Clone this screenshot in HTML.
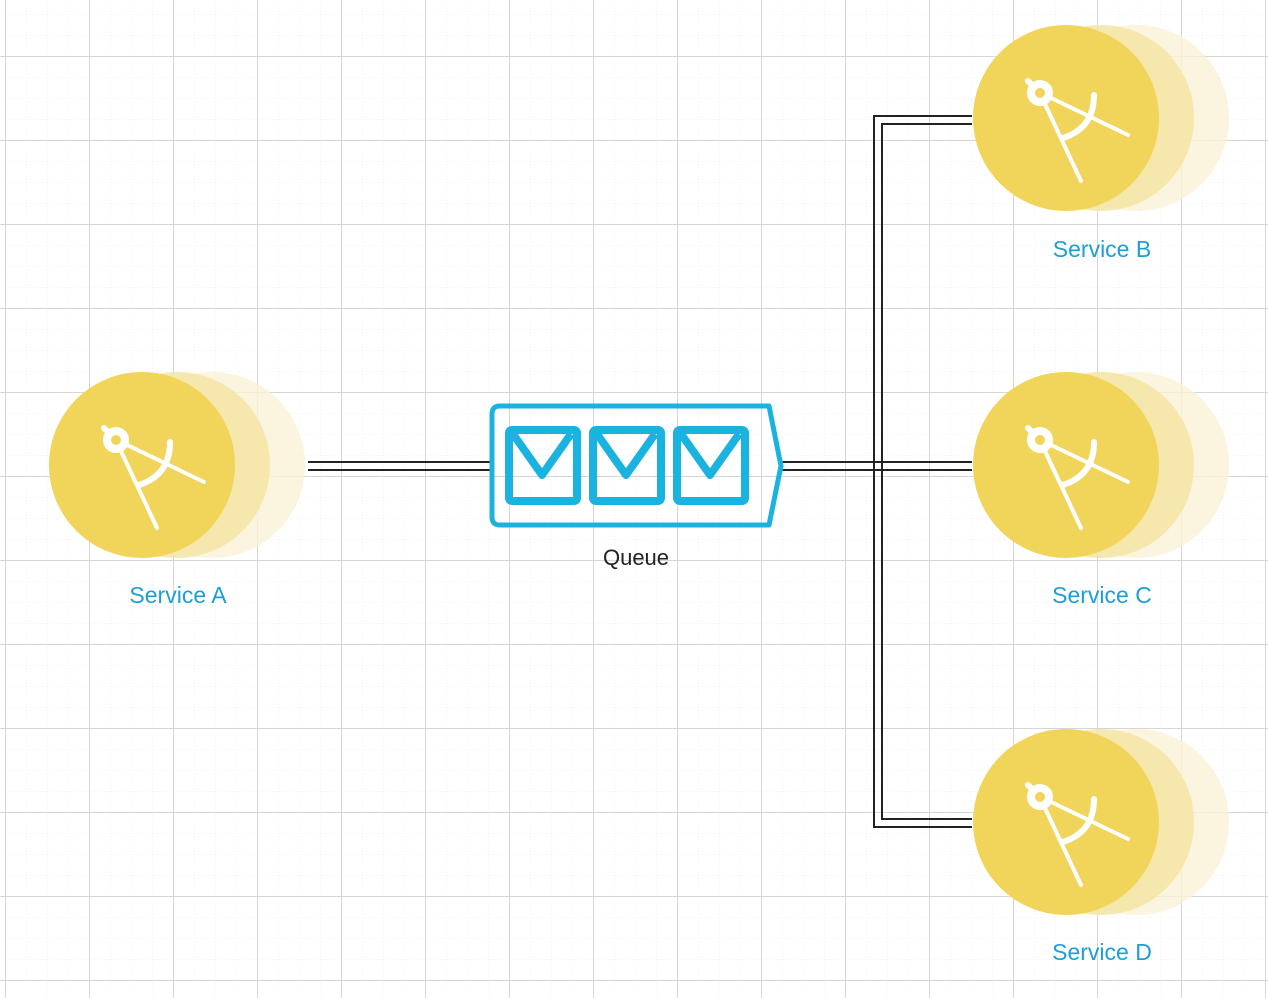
<!DOCTYPE html>
<html><head><meta charset="utf-8"><style>
html,body{margin:0;padding:0;background:#fff;}
svg{display:block;}
text{font-family:"Liberation Sans",sans-serif;}
</style></head><body>
<svg width="1268" height="998" viewBox="0 0 1268 998" xmlns="http://www.w3.org/2000/svg">
<defs>
<pattern id="minor" width="21" height="21" patternUnits="userSpaceOnUse" x="5" y="14">
<path d="M0 0H21M0 0V21" stroke="#eeeae0" stroke-width="1" fill="none" stroke-dasharray="1 2"/>
</pattern>
<pattern id="major" width="84" height="84" patternUnits="userSpaceOnUse" x="5" y="56">
<path d="M0 0.5H84M0.5 0V84" stroke="#d6d6d6" stroke-width="1" fill="none"/>
</pattern>
<g id="comp" fill="none" stroke="#fff" stroke-linecap="round">
<circle cx="-26" cy="-25" r="9" stroke-width="8"/>
<path d="M-38 -37 L-32 -31" stroke-width="6"/>
<path d="M-22 -16 L15 63" stroke-width="4"/>
<path d="M-17 -21 L62 17" stroke-width="4"/>
<path d="M28 -23 Q28 10 -3 20" stroke-width="6"/>
</g>
<g id="svc">
<circle cx="70" cy="0" r="93" fill="#faf1d6" opacity="0.8"/>
<circle cx="35" cy="0" r="93" fill="#f5e4a3" opacity="0.85"/>
<circle cx="0" cy="0" r="93" fill="#f1d45a"/>
<use href="#comp"/>
</g>
</defs>
<rect width="1268" height="998" fill="url(#minor)"/>
<rect width="1268" height="998" fill="url(#major)"/>
<g stroke="#222" stroke-width="2" fill="none">
<path d="M308 462H491M308 470H491"/>
<path d="M782 462H972M782 470H972"/>
<path d="M972 116H874V827H972"/>
<path d="M972 124H882V819H972"/>
</g>
<use href="#svc" x="142" y="465"/>
<use href="#svc" x="1066" y="118"/>
<use href="#svc" x="1066" y="465"/>
<use href="#svc" x="1066" y="822"/>
<g fill="none" stroke="#1ab3e0">
<path d="M500 406H769L781 466L769 525H500Q492 525 492 517V414Q492 406 500 406Z" stroke-width="5" stroke-linejoin="round"/>
<g stroke-width="8" stroke-linejoin="round">
<rect x="509" y="430" width="68" height="71" rx="3"/>
<rect x="593" y="430" width="68" height="71" rx="3"/>
<rect x="677" y="430" width="68" height="71" rx="3"/>
<path d="M513 434L542 475L571 434M597 434L626 475L655 434M681 434L710 475L739 434"/>
</g>
</g>
<g font-size="23" fill="#1b9fd6" text-anchor="middle">
<text x="178" y="603">Service A</text>
<text x="1102" y="257">Service B</text>
<text x="1102" y="603">Service C</text>
<text x="1102" y="960">Service D</text>
</g>
<text x="636" y="565" font-size="22" fill="#222" text-anchor="middle">Queue</text>
</svg>
</body></html>
